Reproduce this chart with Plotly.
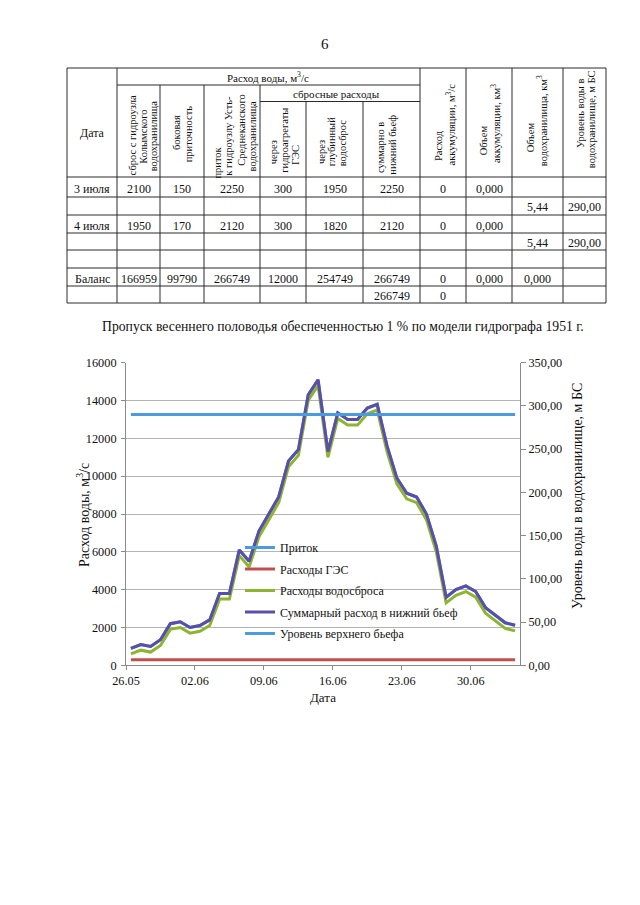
import plotly.graph_objects as go

W, H = 640, 905
OFF = 8  # page body margin of the html document
SERIF = "Liberation Serif"

# ---------------- chart data ----------------
dates = ["26.05", "27.05", "28.05", "29.05", "30.05", "31.05",
         "01.06", "02.06", "03.06", "04.06", "05.06", "06.06", "07.06", "08.06",
         "09.06", "10.06", "11.06", "12.06", "13.06", "14.06", "15.06", "16.06",
         "17.06", "18.06", "19.06", "20.06", "21.06", "22.06", "23.06", "24.06",
         "25.06", "26.06", "27.06", "28.06", "29.06", "30.06",
         "01.07", "02.07", "03.07", "04.07"]
inflow = [900, 1100, 1000, 1350, 2200, 2300, 2000, 2100, 2400, 3800, 3800, 6100, 5500, 7100,
          8000, 8900, 10800, 11400, 14300, 15100, 11300, 13350, 13000, 13000, 13600, 13800,
          11600, 9900, 9100, 8900, 8000, 6300, 3600, 4000, 4200, 3900, 3050, 2650, 2250, 2120]
hpp_flow = [300, 300, 300, 300, 300, 300, 300, 300, 300, 300, 300, 300, 300, 300,
            300, 300, 300, 300, 300, 300, 300, 300, 300, 300, 300, 300, 300, 300,
            300, 300, 300, 300, 300, 300, 300, 300, 300, 300, 300, 300]
spill_flow = [600, 800, 700, 1050, 1900, 2000, 1700, 1800, 2100, 3500, 3500, 5800, 5200, 6800,
              7700, 8600, 10500, 11100, 14000, 14800, 11000, 13050, 12700, 12700, 13300, 13500,
              11300, 9600, 8800, 8600, 7700, 6000, 3300, 3700, 3900, 3600, 2750, 2350, 1950, 1820]
total_flow = [900, 1100, 1000, 1350, 2200, 2300, 2000, 2100, 2400, 3800, 3800, 6100, 5500, 7100,
              8000, 8900, 10800, 11400, 14300, 15100, 11300, 13350, 13000, 13000, 13600, 13800,
              11600, 9900, 9100, 8900, 8000, 6300, 3600, 4000, 4200, 3900, 3050, 2650, 2250, 2120]
upper_level = [290.0, 290.0, 290.0, 290.0, 290.0, 290.0, 290.0, 290.0, 290.0, 290.0,
               290.0, 290.0, 290.0, 290.0, 290.0, 290.0, 290.0, 290.0, 290.0, 290.0,
               290.0, 290.0, 290.0, 290.0, 290.0, 290.0, 290.0, 290.0, 290.0, 290.0,
               290.0, 290.0, 290.0, 290.0, 290.0, 290.0, 290.0, 290.0, 290.0, 290.0]

series_names = ["Приток", "Расходы ГЭС", "Расходы водосброса",
                "Суммарный расход в нижний бьеф", "Уровень верхнего бьефа"]
x_ticktext = ["26.05", "02.06", "09.06", "16.06", "23.06", "30.06"]
left_tickvals = [0, 2000, 4000, 6000, 8000, 10000, 12000, 14000, 16000]
left_ticktext = ["0", "2000", "4000", "6000", "8000", "10000", "12000", "14000", "16000"]
right_tickvals = [0, 50, 100, 150, 200, 250, 300, 350]
right_ticktext = ["0,00", "50,00", "100,00", "150,00", "200,00", "250,00", "300,00", "350,00"]

chart_title = "Пропуск весеннего половодья обеспеченностью 1 % по модели гидрографа 1951 г."
y_title = "Расход воды, м<sup>3</sup>/с"
y2_title = "Уровень воды в водохранилище, м БС"
x_title = "Дата"
page_number = "6"

# ---------------- table data ----------------
table_rows = [
    ["3 июля", "2100", "150", "2250", "300", "1950", "2250", "0", "0,000", "", ""],
    ["", "", "", "", "", "", "", "", "", "5,44", "290,00"],
    ["4 июля", "1950", "170", "2120", "300", "1820", "2120", "0", "0,000", "", ""],
    ["", "", "", "", "", "", "", "", "", "5,44", "290,00"],
    ["", "", "", "", "", "", "", "", "", "", ""],
    ["Баланс", "166959", "99790", "266749", "12000", "254749", "266749", "0", "0,000", "0,000", ""],
    ["", "", "", "", "", "", "266749", "0", "", "", ""],
]
hdr_date = "Дата"
hdr_flow = "Расход воды, м<sup>3</sup>/с"
hdr_spill = "сбросные расходы"
hdr_rot_lines = [
    ["сброс с гидроузла", "Колымского", "водохранилища"],
    ["боковая", "приточность"],
    ["приток", "к гидроузлу Усть-", "Среднеканского", "водохранилища"],
    ["через", "гидроагрегаты", "ГЭС"],
    ["через", "глубинный", "водосброс"],
    ["суммарно в", "нижний бьеф"],
    ["Расход", "аккумуляции, м<sup>3</sup>/с"],
    ["Объем", "аккумуляции, км<sup>3</sup>"],
    ["Объем", "водохранилища, км<sup>3</sup>"],
    ["Уровень воды в", "водохранилище, м БС"],
]

# ---------------- layout helpers (page pixel -> paper) ----------------
def fx(px):
    return (px - OFF) / W


def fy(py):
    return 1 - (py - OFF) / H


shapes = []
annotations = []


def hline(x0, x1, y, color="#2a2a2a", width=1):
    shapes.append(dict(type="line", xref="paper", yref="paper", x0=fx(x0), x1=fx(x1),
                       y0=fy(y), y1=fy(y), line=dict(color=color, width=width)))


def vline(x, y0, y1, color="#2a2a2a", width=1):
    shapes.append(dict(type="line", xref="paper", yref="paper", x0=fx(x), x1=fx(x),
                       y0=fy(y0), y1=fy(y1), line=dict(color=color, width=width)))


def text(t, x, y, size=12, angle=0, xanchor="center", yanchor="middle"):
    annotations.append(dict(text=t, x=fx(x), y=fy(y), xref="paper", yref="paper",
                            showarrow=False, textangle=angle, xanchor=xanchor,
                            yanchor=yanchor, font=dict(family=SERIF, size=size, color="#111"),
                            borderpad=0))


# ---------------- table geometry ----------------
col_x = [67, 117, 160, 204, 260, 306, 363, 420, 466, 512, 563, 606]
T_TOP, L_FLOW, L_SPILL, T_HDR = 68, 85, 101.5, 177
row_y = [177, 197, 215, 233, 250, 268, 286, 303]
T_BOT = row_y[-1]

hline(col_x[0], col_x[-1], T_TOP)
hline(col_x[1], col_x[7], L_FLOW)
hline(col_x[4], col_x[7], L_SPILL)
for ry in row_y:
    hline(col_x[0], col_x[-1], ry)
for i, cx in enumerate(col_x):
    if i in (0, 1, 7, 8, 9, 10, 11):
        vline(cx, T_TOP, T_BOT)
    elif i in (2, 3, 4):
        vline(cx, L_FLOW, T_BOT)
    else:
        vline(cx, L_SPILL, T_BOT)

text(hdr_date, 92, 133, 12)
text(hdr_flow, 268, 77, 11)
text(hdr_spill, 336, 94, 11)

# per-line (x centre, y centre) of rotated header lines
hdr_rot_pos = [
    [(132.7, 135.7), (143.3, 136.5), (153.3, 136)],
    [(176.7, 132.3), (188.3, 134)],
    [(217.3, 162.3), (229, 135.7), (240.7, 130), (252.7, 135.7)],
    [(273.3, 152), (285, 140.7), (296, 155)],
    [(321, 152), (331.7, 141.5), (343.3, 143)],
    [(380, 148), (391.7, 145)],
    [(438.3, 145.7), (450, 124.5)],
    [(483.3, 140), (495, 124)],
    [(530, 137.3), (541.7, 120.5)],
    [(580, 114), (591.7, 119.5)],
]
for lines, pos in zip(hdr_rot_lines, hdr_rot_pos):
    for t, (px, py) in zip(lines, pos):
        text(t, px, py, 10.5, angle=-90)

col_cx = [(col_x[i] + col_x[i + 1]) / 2 for i in range(len(col_x) - 1)]
for r, row in enumerate(table_rows):
    cy = (row_y[r] + row_y[r + 1]) / 2 + 1.5
    for c, val in enumerate(row):
        if val:
            text(val, col_cx[c], cy, 12)

# page number, chart title, axis titles
text(page_number, 325, 44, 15)
text(chart_title, 343, 327, 13.7)
text(y_title, 83, 515, 14, angle=-90)
text(y2_title, 577, 496, 14, angle=-90)
text(x_title, 323, 697, 13)

# ---------------- chart ----------------
PX0, PX1, PY_TOP, PY_BOT = 126, 520, 362.7, 665.3
xi = list(range(len(dates)))

fig = go.Figure()
colors = ["#4a9be0", "#c0504d", "#8db530", "#5a4ea8", "#4a9be0"]
ys = [inflow, hpp_flow, spill_flow, total_flow]
for k, (name, col, yv) in enumerate(zip(series_names[:4], colors[:4], ys)):
    fig.add_trace(go.Scatter(x=xi, y=yv, name=name, mode="lines", customdata=dates,
                             legendgroup="g%d" % k,
                             line=dict(color=col, width=3),
                             hovertemplate="%{customdata}: %{y}<extra>" + name + "</extra>"))
fig.add_trace(go.Scatter(x=xi, y=upper_level, name=series_names[4], mode="lines", yaxis="y2",
                         legendgroup="g4", customdata=dates, line=dict(color=colors[4], width=3),
                         hovertemplate="%{customdata}: %{y}<extra></extra>"))

tickfont = dict(family=SERIF, size=12.3, color="#111")
week_ticks = [-0.5 + 7 * k for k in range(len(x_ticktext))]

fig.update_layout(
    width=W, height=H,
    margin=dict(l=0, r=0, t=0, b=0, pad=0),
    paper_bgcolor="white", plot_bgcolor="white",
    font=dict(family=SERIF, color="#111"),
    showlegend=True,
    legend=dict(x=fx(240), y=fy(533), xanchor="left", yanchor="top",
                bgcolor="rgba(0,0,0,0)", font=dict(family=SERIF, size=12, color="#111"),
                itemwidth=30, tracegroupgap=2.5),
    xaxis=dict(domain=[fx(PX0), fx(PX1)], range=[-0.5, len(dates) - 0.5], automargin=False,
               tickvals=week_ticks, ticktext=x_ticktext, ticks="outside", ticklen=4,
               tickcolor="#8a8a8a", showline=True, linecolor="#8a8a8a", linewidth=1,
               showgrid=False, zeroline=False, tickfont=tickfont, anchor="y"),
    yaxis=dict(domain=[fy(PY_BOT), fy(PY_TOP)], range=[0, 16000], automargin=False,
               tickvals=left_tickvals, ticktext=left_ticktext, ticks="outside", ticklen=4,
               tickcolor="#8a8a8a", showline=True, linecolor="#8a8a8a", linewidth=1,
               showgrid=True, gridcolor="#b4b4b4", gridwidth=1, zeroline=False,
               tickfont=tickfont, ticklabelstandoff=2, anchor="x"),
    yaxis2=dict(domain=[fy(PY_BOT), fy(PY_TOP)], range=[0, 350], overlaying="y", side="right",
                automargin=False,
                tickvals=right_tickvals, ticktext=right_ticktext, ticks="outside", ticklen=5,
                tickcolor="#8a8a8a", showline=True, linecolor="#8a8a8a", linewidth=1,
                showgrid=False, zeroline=False, tickfont=tickfont, anchor="x"),
    shapes=shapes,
    annotations=annotations,
)

fig.write_html("out.html")
